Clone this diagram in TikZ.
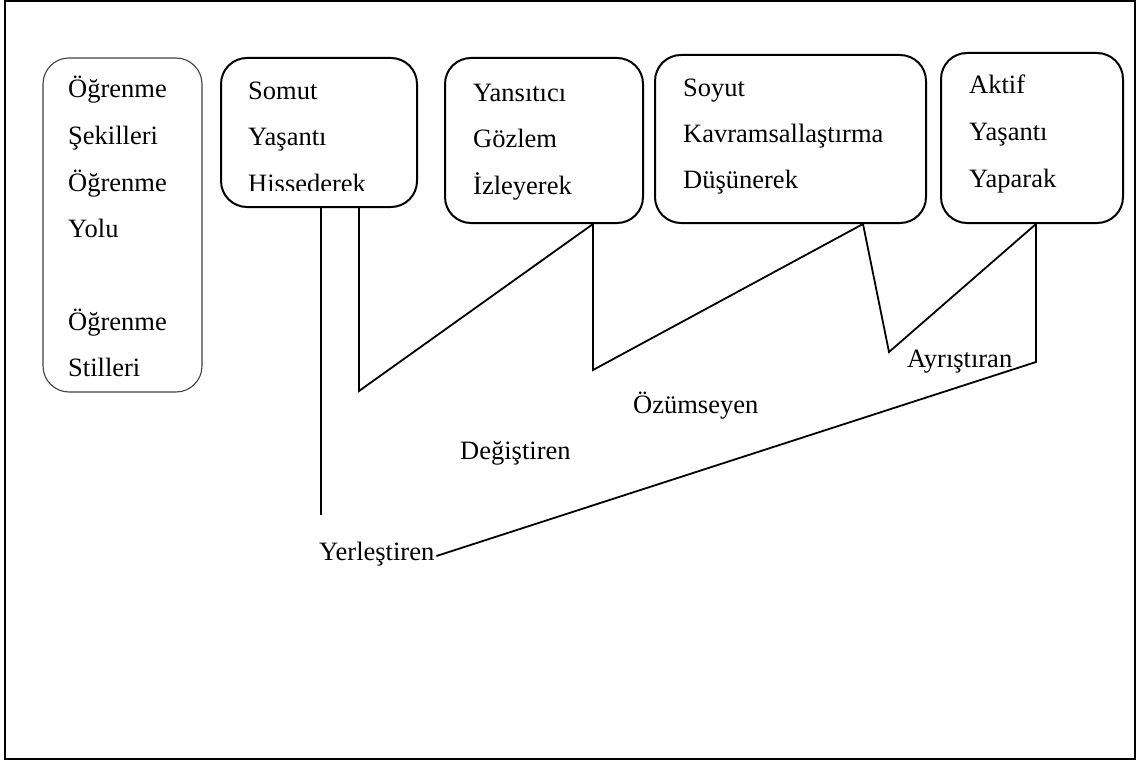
\documentclass[tikz,border=0pt]{standalone}
\usepackage{fontspec}
\setmainfont{Liberation Serif}
\usetikzlibrary{calc}
\begin{document}
\begin{tikzpicture}[x=1pt,y=-1pt,
  box/.style={draw, line width=2pt, rounded corners=26pt, inner sep=0pt},
  lbox/.style={draw=black!75, line width=1.1pt, rounded corners=26pt, inner sep=0pt},
  txt/.style={anchor=base west, inner sep=0pt, font=\fontsize{26.5}{30}\selectfont},
  conn/.style={line width=1.8pt}]
\useasboundingbox (0,0) rectangle (1139,762);
\draw[line width=2pt] (5,1) rectangle (1135,759);

% boxes
\node[lbox, minimum width=159pt, minimum height=334pt] (left) at (122.5,225) {};
\node[box, minimum width=196pt, minimum height=149pt] (somut) at (319,132.5) {};
\node[box, minimum width=198pt, minimum height=165pt] (yans) at (544,140.5) {};
\node[box, minimum width=271pt, minimum height=168pt] (soyut) at (790.5,139) {};
\node[box, minimum width=182pt, minimum height=170pt] (aktif) at (1032,138) {};

% left box text
\node[txt] (l1) at (68,98) {Öğrenme};
\node[txt] (l2) at (68,144.5) {Şekilleri};
\node[txt] (l3) at (68,191) {Öğrenme};
\node[txt] (l4) at (68,237.5) {Yolu};
\node[txt] (l5) at (68,330) {Öğrenme};
\node[txt] (l6) at (68,376) {Stilleri};

% somut
\node[txt] (s1) at (248,100) {Somut};
\node[txt] (s2) at (248,146) {Yaşantı};
\begin{scope}
\clip (221,150) rectangle (417,190);
\node[txt] (s3) at (248,192.5) {Hissederek};
\end{scope}

% yansitici
\node[txt] (y1) at (473,102) {Yansıtıcı};
\node[txt] (y2) at (473,147.5) {Gözlem};
\node[txt] (y3) at (473,194) {İzleyerek};

% soyut
\node[txt] (k1) at (683,97) {Soyut};
\node[txt] (k2) at (683,143) {Kavramsallaştırma};
\node[txt] (k3) at (683,189) {Düşünerek};

% aktif
\node[txt] (a1) at (969,94) {Aktif};
\node[txt] (a2) at (969,141) {Yaşantı};
\node[txt] (a3) at (969,187) {Yaparak};

% style labels
\node[txt] (yer) at (319,560) {Yerleştiren};
\node[txt] (deg) at (460,459) {Değiştiren};
\node[txt] (ozu) at (633,413) {Özümseyen};
\node[txt] (ayr) at (907,367) {Ayrıştıran};

% connectors
\coordinate (v1) at (321,515);
\coordinate (p1) at (359,391);
\coordinate (p2) at (593,370);
\coordinate (p3) at (889,352);
\coordinate (p4) at (1036,362);
\draw[conn] (somut.south -| v1) -- (v1);
\draw[conn] (somut.south -| p1) -- (p1)
  -- ($(yans.south)+(49,0)$) -- (p2)
  -- ($(soyut.south)+(72.5,0)$) -- (p3)
  -- ($(aktif.south)+(4,0)$) -- (p4)
  -- ($(yer.base east)+(2,-4)$);
\end{tikzpicture}
\end{document}
